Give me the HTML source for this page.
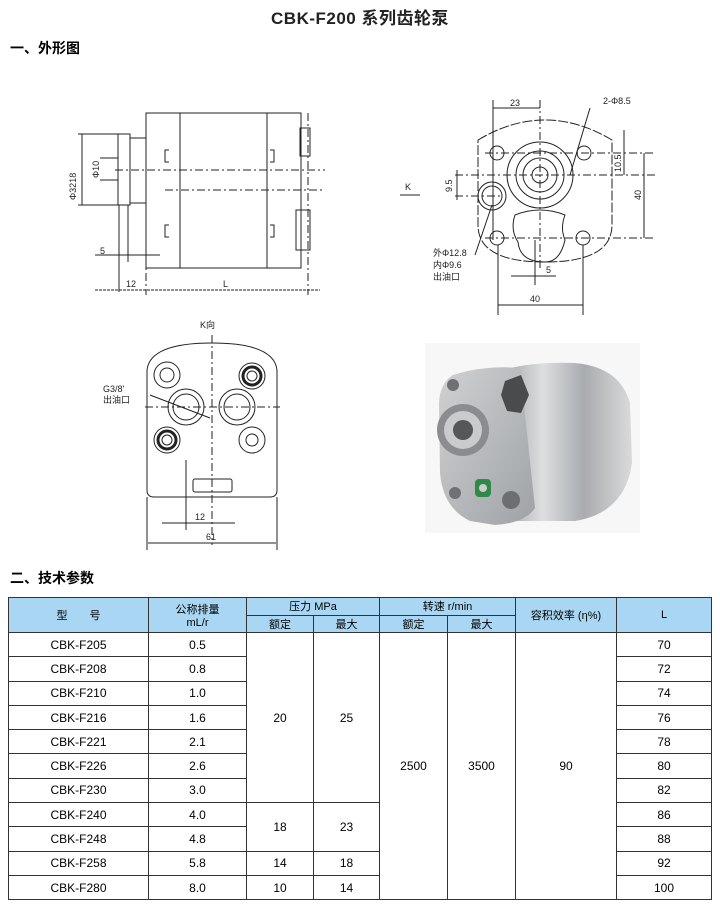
<!DOCTYPE html>
<html><head><meta charset="utf-8"><style>
body{margin:0;width:720px;height:917px;background:#fff;font-family:"Liberation Sans","Noto Sans CJK SC",sans-serif;position:relative;overflow:hidden}
.t{position:absolute;color:#000}
table{position:absolute;left:8px;top:597px;border-collapse:collapse;width:704px;font-size:12px}
td{border:1px solid #333;text-align:center;padding:0;height:23.3px}
.h td{background:#a9d7f3;height:16.5px;font-size:11px}
</style></head><body>
<div class="t" style="left:0;width:720px;top:4px;text-align:center;font-size:17px;letter-spacing:0.5px;font-weight:bold;color:#222">CBK-F200 系列齿轮泵</div>
<div class="t" style="left:10px;top:38px;font-size:14px;font-weight:bold">一、外形图</div>
<div class="t" style="left:10px;top:568px;font-size:14px;font-weight:bold">二、技术参数</div>
<svg width="720" height="560" style="position:absolute;left:0;top:0" font-family="Liberation Sans,Noto Sans CJK SC,sans-serif" font-size="9" fill="none" stroke="#222" stroke-width="1">
<!-- side view -->
<rect x="146" y="113" width="155" height="155"/>
<line x1="180" y1="113" x2="180" y2="268"/><line x1="267" y1="113" x2="267" y2="268"/>
<path d="M169 150h-4v12h4M169 225h-4v12h4M270 150h4v12h-4M270 225h4v12h-4" />
<rect x="130" y="138" width="16" height="65"/><rect x="118" y="134" width="12" height="71"/>
<rect x="300" y="128" width="10" height="28"/><rect x="296" y="210" width="14" height="40"/>
<g stroke-dasharray="8,3,2,3"><line x1="115" y1="170" x2="325" y2="170"/><line x1="165" y1="190" x2="325" y2="190"/><line x1="146" y1="113" x2="146" y2="295"/><line x1="308" y1="113" x2="308" y2="295"/></g>
<line x1="78" y1="134" x2="118" y2="134"/><line x1="78" y1="205" x2="118" y2="205"/><line x1="82" y1="134" x2="82" y2="205"/>
<line x1="100" y1="158" x2="118" y2="158"/><line x1="100" y1="180" x2="118" y2="180"/>
<line x1="119" y1="205" x2="119" y2="292"/><line x1="128" y1="205" x2="128" y2="262"/>
<line x1="95" y1="255" x2="160" y2="255"/><line x1="95" y1="290" x2="320" y2="290" stroke-dasharray="3,1"/>
<g fill="#222" stroke="none"><text x="100" y="254">5</text><text x="126" y="287">12</text><text x="223" y="287">L</text>
<text transform="translate(76,200) rotate(-90)">Φ3218</text><text transform="translate(99,178) rotate(-90)">Φ10</text></g>
<!-- front view -->
<path d="M478 140 Q545 100 612 140 L612 225 Q612 262 545 262 Q478 262 478 225Z" stroke-dasharray="10,2"/>
<circle cx="540" cy="175" r="33"/><circle cx="540" cy="175" r="24"/><circle cx="540" cy="175" r="17"/><circle cx="540" cy="175" r="8"/>
<circle cx="497" cy="153" r="7"/><circle cx="584" cy="153" r="7"/><circle cx="497" cy="238" r="7"/><circle cx="583" cy="238" r="7"/>
<circle cx="492" cy="196" r="14"/><circle cx="492" cy="196" r="10"/>
<path d="M515 215 Q540 205 565 215 Q560 228 565 240 Q560 262 545 262 Q520 262 518 242 Q510 230 515 215Z"/>
<g stroke-dasharray="8,3,2,3"><line x1="540" y1="100" x2="540" y2="270"/><line x1="485" y1="153" x2="655" y2="153"/><line x1="455" y1="175" x2="655" y2="175"/><line x1="455" y1="196" x2="500" y2="196"/><line x1="485" y1="238" x2="655" y2="238"/></g>
<line x1="493" y1="108" x2="540" y2="108"/><line x1="493" y1="100" x2="493" y2="240"/><line x1="644" y1="153" x2="644" y2="238"/><line x1="624" y1="130" x2="624" y2="175"/><line x1="457" y1="170" x2="457" y2="200"/>
<line x1="498" y1="305" x2="583" y2="305"/><line x1="498" y1="245" x2="498" y2="315"/><line x1="583" y1="245" x2="583" y2="315"/>
<line x1="511" y1="276" x2="556" y2="276"/><line x1="535" y1="240" x2="535" y2="285"/>
<line x1="590" y1="108" x2="570" y2="175"/><line x1="475" y1="255" x2="492" y2="205"/>
<line x1="400" y1="195" x2="420" y2="195"/>
<g fill="#222" stroke="none"><text x="510" y="106">23</text><text x="603" y="104">2-Φ8.5</text><text x="405" y="190">K</text>
<text x="530" y="302">40</text><text x="546" y="273">5</text>
<text transform="translate(452,192) rotate(-90)">9.5</text><text transform="translate(621,172) rotate(-90)">10.5</text><text transform="translate(641,200) rotate(-90)">40</text>
<text x="433" y="256">外Φ12.8</text><text x="433" y="268">内Φ9.6</text><text x="433" y="280">出油口</text></g>
<!-- K view -->
<path d="M147 370 Q150 343 212 343 Q274 343 277 370 L277 490 Q277 497 270 497 L154 497 Q147 497 147 490Z"/>
<circle cx="167" cy="375" r="13"/><circle cx="167" cy="375" r="7"/>
<circle cx="252" cy="376" r="13"/><circle cx="252" cy="376" r="9" stroke-width="3"/><circle cx="252" cy="376" r="5"/>
<circle cx="167" cy="440" r="13"/><circle cx="167" cy="440" r="9" stroke-width="3"/><circle cx="167" cy="440" r="5"/>
<circle cx="252" cy="440" r="13"/><circle cx="252" cy="440" r="6"/>
<circle cx="186" cy="407" r="18"/><circle cx="186" cy="407" r="13"/><circle cx="237" cy="407" r="18"/><circle cx="237" cy="407" r="13"/>
<rect x="193" y="479" width="39" height="13" rx="2"/>
<g stroke-dasharray="8,3,2,3"><line x1="212" y1="335" x2="212" y2="545"/><line x1="145" y1="407" x2="280" y2="407"/></g>
<line x1="147" y1="497" x2="147" y2="550"/><line x1="277" y1="497" x2="277" y2="550"/><line x1="148" y1="543" x2="276" y2="543"/>
<line x1="186" y1="460" x2="186" y2="530"/><line x1="162" y1="523" x2="235" y2="523"/>
<line x1="150" y1="395" x2="210" y2="418"/>
<g fill="#222" stroke="none"><text x="200" y="328">K向</text><text x="103" y="392">G3/8'</text><text x="103" y="403">出油口</text><text x="195" y="520">12</text><text x="206" y="540">61</text></g>
</svg>
<!-- photo -->
<svg width="215" height="190" style="position:absolute;left:425px;top:343px">
<defs>
<linearGradient id="g" x1="0" x2="1"><stop offset="0" stop-color="#9a9da0"/><stop offset=".35" stop-color="#dcdedf"/><stop offset=".65" stop-color="#a9acaf"/><stop offset="1" stop-color="#d9dadb"/></linearGradient>
<linearGradient id="f" x1="0" x2="1" y1="0" y2="1"><stop offset="0" stop-color="#cfd1d3"/><stop offset="1" stop-color="#9fa2a5"/></linearGradient>
</defs>
<rect width="215" height="190" fill="#f7f7f7"/>
<path d="M70 30 Q100 18 150 20 Q195 24 205 60 L207 120 Q200 170 150 178 L90 178Z" fill="url(#g)"/>
<path d="M28 32 Q60 22 95 25 L110 165 Q100 180 70 182 L45 178 Q18 165 15 130 L14 60 Q15 40 28 32Z" fill="url(#f)"/>
<circle cx="38" cy="87" r="26" fill="#8a8c8f"/><circle cx="38" cy="87" r="19" fill="#c9cbcd"/><circle cx="38" cy="87" r="10" fill="#55575a"/>
<polygon points="80,38 96,32 104,52 96,70 82,68 76,52" fill="#4a4b4d"/>
<circle cx="28" cy="42" r="6" fill="#6f7174"/><circle cx="30" cy="150" r="6" fill="#6f7174"/>
<rect x="50" y="136" width="16" height="18" rx="4" fill="#2f8a4a"/><circle cx="58" cy="145" r="4" fill="#ccc"/>
<circle cx="86" cy="157" r="9" fill="#6c6e71"/>
</svg>
<table>
<tr class="h"><td rowspan="2" style="width:139px">型　　号</td><td rowspan="2" style="width:97px">公称排量<br>mL/r</td><td colspan="2">压力 MPa</td><td colspan="2">转速 r/min</td><td rowspan="2" style="width:100px">容积效率 (η%)</td><td rowspan="2">L</td></tr>
<tr class="h"><td style="width:66px">额定</td><td style="width:65px">最大</td><td style="width:67px">额定</td><td style="width:67px">最大</td></tr>
<tr><td>CBK-F205</td><td>0.5</td><td rowspan="7">20</td><td rowspan="7">25</td><td rowspan="11">2500</td><td rowspan="11">3500</td><td rowspan="11">90</td><td>70</td></tr>
<tr><td>CBK-F208</td><td>0.8</td><td>72</td></tr>
<tr><td>CBK-F210</td><td>1.0</td><td>74</td></tr>
<tr><td>CBK-F216</td><td>1.6</td><td>76</td></tr>
<tr><td>CBK-F221</td><td>2.1</td><td>78</td></tr>
<tr><td>CBK-F226</td><td>2.6</td><td>80</td></tr>
<tr><td>CBK-F230</td><td>3.0</td><td>82</td></tr>
<tr><td>CBK-F240</td><td>4.0</td><td rowspan="2">18</td><td rowspan="2">23</td><td>86</td></tr>
<tr><td>CBK-F248</td><td>4.8</td><td>88</td></tr>
<tr><td>CBK-F258</td><td>5.8</td><td>14</td><td>18</td><td>92</td></tr>
<tr><td>CBK-F280</td><td>8.0</td><td>10</td><td>14</td><td>100</td></tr>
</table>
</body></html>
